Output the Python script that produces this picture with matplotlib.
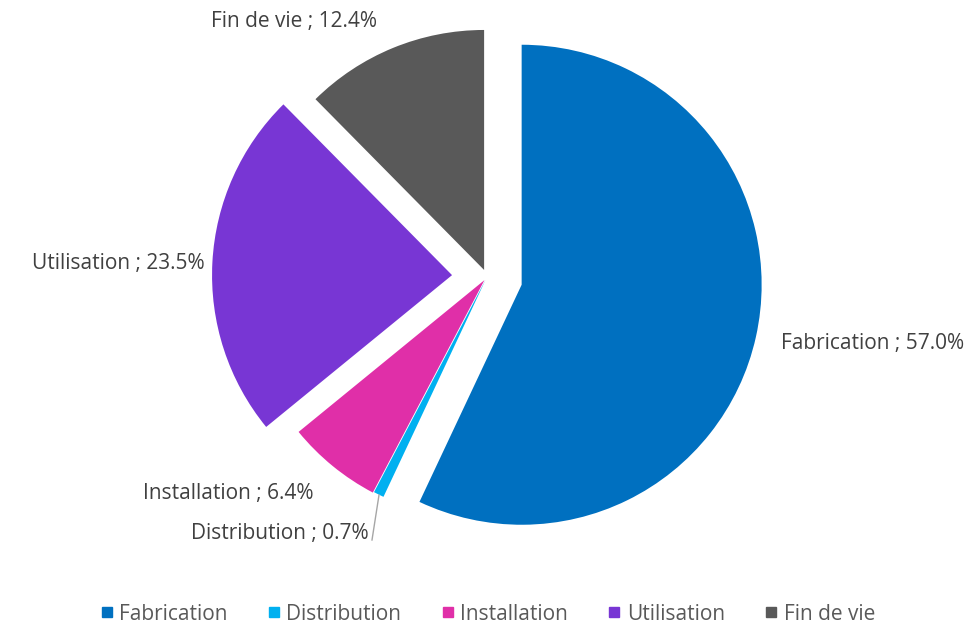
import matplotlib.pyplot as plt
from matplotlib.lines import Line2D

# données
categories = ['Fabrication', 'Distribution', 'Installation', 'Utilisation', 'Fin de vie']
valeurs = [57.0, 0.7, 6.4, 23.5, 12.4]
couleurs = ['#0070C0', '#00B0F0', '#E02FA8', '#7836D4', '#595959']

plt.rcParams['font.family'] = ['Open Sans', 'DejaVu Sans']

W, H = 971, 623
fig = plt.figure(figsize=(W / 100, H / 100), dpi=100)
ax = fig.add_axes([0, 0, 1, 1])
ax.set_xlim(0, W)
ax.set_ylim(0, H)
ax.set_aspect('equal')
ax.axis('off')

# explosion de chaque part (en pixels)
explode = [35.5, 3, 4, 35, 7.6]
ax.pie(valeurs, colors=couleurs, explode=explode, center=(487, H - 277), radius=240,
       startangle=90, counterclock=False, wedgeprops=dict(linewidth=0))
ax.set_xlim(0, W)
ax.set_ylim(0, H)

# étiquettes de données
positions = [(781, 344, 'left'), (369, 533, 'right'), (313, 493, 'right'),
             (118, 263, 'center'), (294, 22, 'center')]
for nom, val, (x, y, ha) in zip(categories, valeurs, positions):
    ax.text(x, H - y, f'{nom} ; {val:.1f}%', ha=ha, va='center',
            fontsize=15, color='#404040')

# trait de rappel pour Distribution
ax.plot([379, 372], [H - 495, H - 540], color='#A6A6A6', lw=1)

# légende
handles = [Line2D([], [], marker='s', linestyle='none', markersize=7,
                  markerfacecolor=c, markeredgecolor=c) for c in couleurs]
fig.legend(handles, categories, loc='center', bbox_to_anchor=(0.5, 1 - 614 / H),
           ncol=5, frameon=False, fontsize=15, labelcolor='#595959',
           handletextpad=0.1, columnspacing=1.72, handlelength=1.0)

plt.savefig('out.png', dpi=100)
